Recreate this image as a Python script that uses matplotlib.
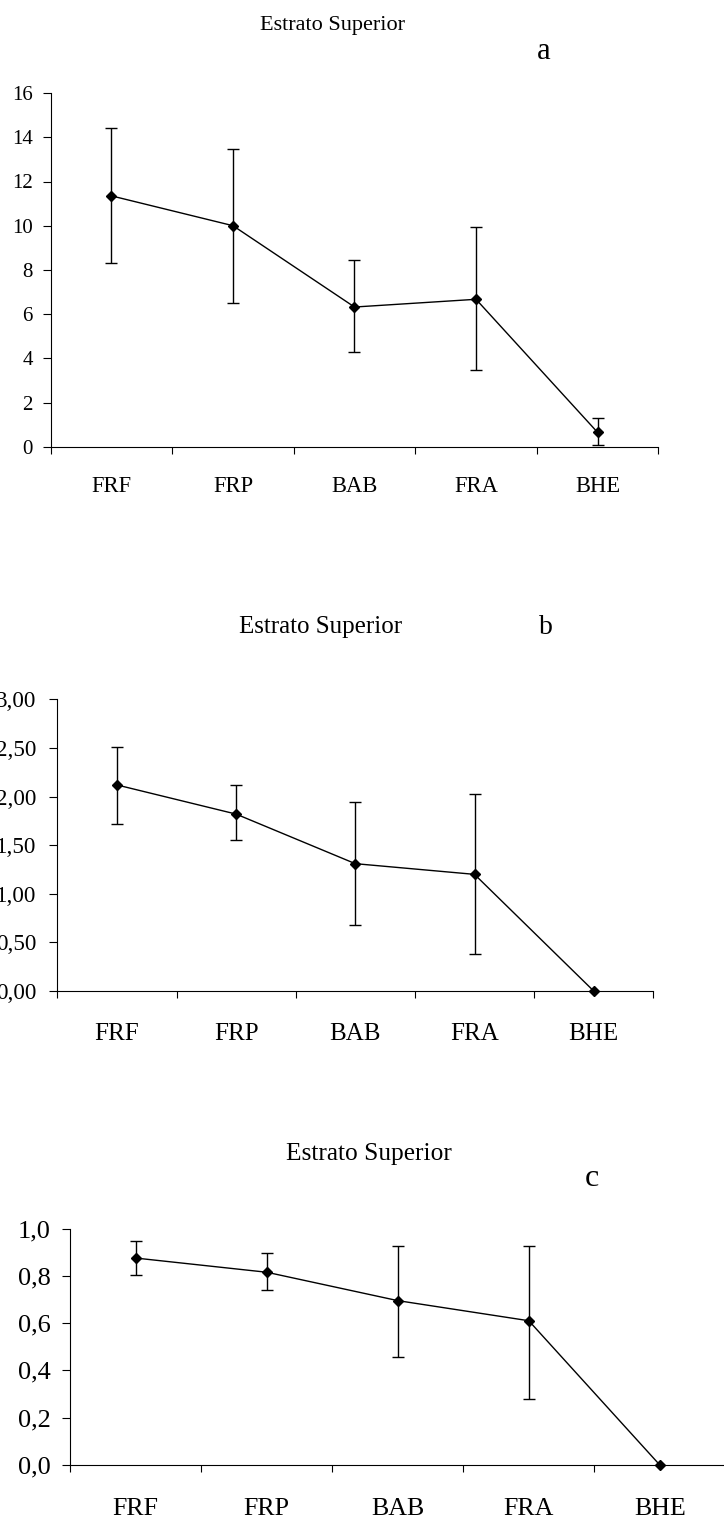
import matplotlib
matplotlib.use("Agg")
import matplotlib.pyplot as plt
import numpy as np

plt.rcParams['font.family'] = ['Liberation Serif', 'DejaVu Serif']

# ---- data ----
categories = ['FRF', 'FRP', 'BAB', 'FRA', 'BHE']

a_mean = [11.35, 10.0, 6.32, 6.67, 0.65]
a_upper = [14.4, 13.47, 8.45, 9.95, 1.30]
a_lower = [8.30, 6.52, 4.27, 3.48, 0.08]
a_yticks = [0, 2, 4, 6, 8, 10, 12, 14, 16]
a_yticklabels = ['0', '2', '4', '6', '8', '10', '12', '14', '16']

b_mean = [2.12, 1.82, 1.31, 1.20, 0.0]
b_upper = [2.51, 2.12, 1.94, 2.03, 0.0]
b_lower = [1.72, 1.55, 0.68, 0.38, 0.0]
b_yticks = [0, 0.5, 1.0, 1.5, 2.0, 2.5, 3.0]
b_yticklabels = ['0,00', '0,50', '1,00', '1,50', '2,00', '2,50', '3,00']

c_mean = [0.875, 0.815, 0.695, 0.61, 0.0]
c_upper = [0.947, 0.898, 0.927, 0.927, 0.0]
c_lower = [0.805, 0.740, 0.457, 0.28, 0.0]
c_yticks = [0, 0.2, 0.4, 0.6, 0.8, 1.0]
c_yticklabels = ['0,0', '0,2', '0,4', '0,6', '0,8', '1,0']

title_text = 'Estrato Superior'

W, H = 724, 1521
fig = plt.figure(figsize=(W / 100, H / 100), dpi=100)


def px_axes(x0, x1, y0, ytop):
    return fig.add_axes([x0 / W, 1 - y0 / H, (x1 - x0) / W, (y0 - ytop) / H])


def draw_panel(ax, mean, upper, lower, yticks, yticklabels, ytop,
               ytick_fs, ytick_pad, cat_fs, cat_pad):
    x = np.arange(len(categories)) + 0.5
    mean = np.array(mean)
    upper = np.array(upper)
    lower = np.array(lower)
    ax.plot(x, mean, color='black', lw=1.0, marker='D', ms=5.5,
            mfc='black', mec='black', clip_on=False, zorder=4)
    has_err = upper > lower
    ax.errorbar(x[has_err], mean[has_err],
                yerr=[mean[has_err] - lower[has_err], upper[has_err] - mean[has_err]],
                fmt='none', ecolor='black', elinewidth=1.0, capsize=4.3,
                capthick=1.0, clip_on=False, zorder=3)
    ax.set_xlim(0, len(categories))
    ax.set_ylim(0, ytop)
    for s in ['top', 'right']:
        ax.spines[s].set_visible(False)
    for s in ['left', 'bottom']:
        ax.spines[s].set_linewidth(0.8)
        ax.spines[s].set_color('black')
    ax.set_yticks(yticks)
    ax.set_yticklabels(yticklabels, fontsize=ytick_fs)
    ax.tick_params(axis='y', direction='out', length=5.8, width=0.8,
                   pad=ytick_pad)
    ax.set_xticks(np.arange(len(categories) + 1))
    ax.set_xticklabels([])
    ax.tick_params(axis='x', which='major', direction='out', length=5.0,
                   width=0.8)
    ax.set_xticks(x, minor=True)
    ax.set_xticklabels(categories, minor=True, fontsize=cat_fs)
    ax.tick_params(axis='x', which='minor', length=0, pad=cat_pad)


# panel a
ax_a = px_axes(50.7, 658.3, 446.7, 93.1)
draw_panel(ax_a, a_mean, a_upper, a_lower, a_yticks, a_yticklabels, 16,
           15, 7.0, 16.3, 21.0)
# panel b
ax_b = px_axes(57.3, 653.3, 991.0, 699.4)
draw_panel(ax_b, b_mean, b_upper, b_lower, b_yticks, b_yticklabels, 3.0,
           16.6, 9.5, 18, 23.0)
# panel c
ax_c = px_axes(70.3, 725.3, 1465.0, 1228.5)
draw_panel(ax_c, c_mean, c_upper, c_lower, c_yticks, c_yticklabels, 1.0,
           19, 8.5, 18.7, 23.5)


def ftext(x, y, s, fs):
    fig.text(x / W, 1 - y / H, s, fontsize=fs, ha='center', va='baseline')


ftext(333, 30, title_text, 16)
ftext(544, 59, 'a', 22)
ftext(320.5, 633.3, title_text, 18)
ftext(545.5, 634, 'b', 20)
ftext(369, 1160, title_text, 18.3)
ftext(592, 1186, 'c', 23)

fig.savefig('out.png', dpi=100)
